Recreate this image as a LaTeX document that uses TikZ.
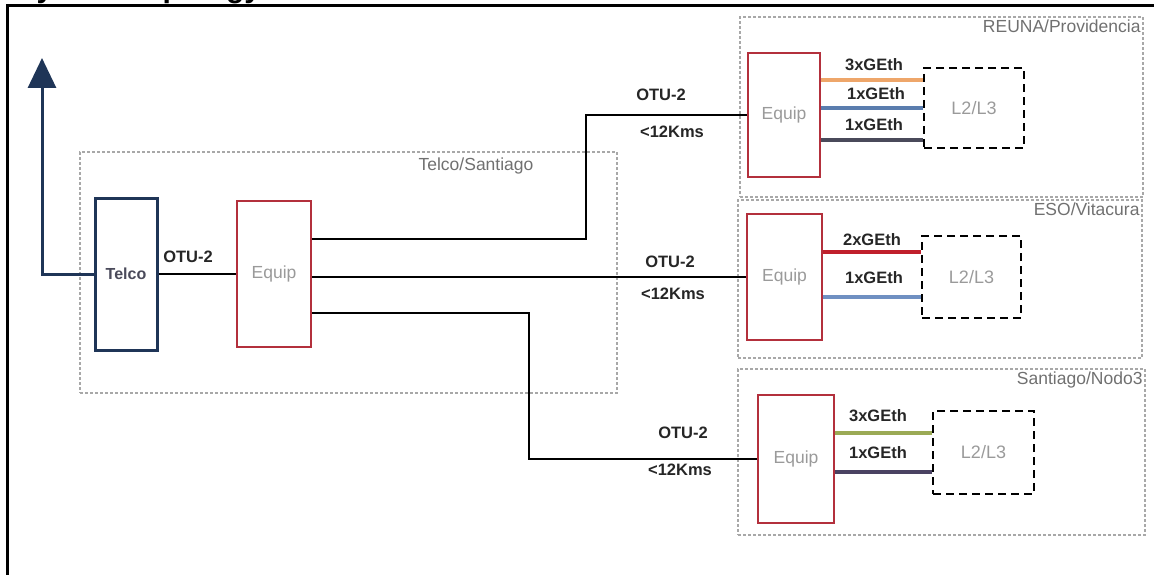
\documentclass[tikz,border=0pt]{standalone}
\usepackage{fontspec}
\setmainfont{Liberation Sans}
\usetikzlibrary{arrows.meta}
\definecolor{navy}{HTML}{1F3557}
\definecolor{eqred}{HTML}{B3303C}
\definecolor{zonegray}{HTML}{A8A8A8}
\definecolor{lblgray}{HTML}{707070}
\definecolor{lightgray}{HTML}{9A9A9A}
\definecolor{lorange}{HTML}{EEA66A}
\definecolor{lblue}{HTML}{5A7DAE}
\definecolor{ldark}{HTML}{4A4A5A}
\definecolor{lred}{HTML}{C0202C}
\definecolor{lblue2}{HTML}{6F90C2}
\definecolor{lgreen}{HTML}{9BAA55}
\definecolor{lpurple}{HTML}{4A4262}
\tikzset{
  zone/.style={draw=zonegray, line width=1.4pt, dash pattern=on 3pt off 2pt, inner sep=0pt},
  zonelbl/.style={font=\fontsize{17.5}{20}\selectfont, text=lblgray, inner sep=1pt},
  navybox/.style={draw=navy, line width=3pt, fill=white, inner sep=0pt, font=\bfseries\fontsize{16}{18}\selectfont, text=ldark},
  equip/.style={draw=eqred, line width=2.2pt, fill=white, inner sep=0pt, font=\fontsize{17.5}{20}\selectfont, text=lightgray},
  l2box/.style={draw=black, line width=2.4pt, dash pattern=on 8pt off 5pt, inner sep=0pt, font=\fontsize{18}{20}\selectfont, text=lightgray},
  wire/.style={draw=black, line width=2.4pt},
  cline/.style={line width=4pt},
  lbl/.style={font=\bfseries\fontsize{16.5}{19}\selectfont, text=black!85, inner sep=1pt},
}
\begin{document}
\begin{tikzpicture}[x=1pt, y=-1pt]
\useasboundingbox (0,0) rectangle (1154,575);
\begin{scope}
\clip (0,0) rectangle (1154,575);
\node[anchor=base west, inner sep=0pt, font=\bfseries\fontsize{30}{30}\selectfont] (title) at (-2,-2) {Physical Topology};
\end{scope}
% outer frame
\draw[line width=3pt] (7,575) -- (7,6) -- (1154,6);

% zones
\node[zone, minimum width=537, minimum height=241] (zsant) at (348.5,272.5) {};
\node[zonelbl] (zsantlbl) at (476,166) {Telco/Santiago};
\node[zone, minimum width=403, minimum height=180] (zreuna) at (941.5,107) {};
\node[zonelbl, anchor=north east] (zreunalbl) at ([xshift=-2pt,yshift=-2pt]zreuna.north east) {REUNA/Providencia};
\node[zone, minimum width=404, minimum height=158] (zeso) at (940,279) {};
\node[zonelbl, anchor=north east] (zesolbl) at ([xshift=-2pt,yshift=-2pt]zeso.north east) {ESO/Vitacura};
\node[zone, minimum width=407, minimum height=166] (znodo) at (941.5,452) {};
\node[zonelbl, anchor=north east] (znodolbl) at ([xshift=-2pt,yshift=-2pt]znodo.north east) {Santiago/Nodo3};

% main boxes
\node[navybox, minimum width=62, minimum height=152] (telco) at (126,274) {Telco};
\node[equip, minimum width=74, minimum height=146] (eq0) at (274,274) {Equip};
\node[equip, minimum width=72, minimum height=124] (eq1) at (784,115) {Equip};
\node[equip, minimum width=75, minimum height=126] (eq2) at (784.5,277) {Equip};
\node[equip, minimum width=76, minimum height=128] (eq3) at (796,459) {Equip};

% L2/L3 boxes
\node[l2box, minimum width=100, minimum height=80] (l21) at (974,108) {L2/L3};
\node[l2box, minimum width=99, minimum height=82] (l22) at (971.5,277) {L2/L3};
\node[l2box, minimum width=101, minimum height=83] (l23) at (983.5,452.5) {L2/L3};

% uplink arrow
\coordinate (up) at (42,58);
\draw[draw=navy, line width=3pt, -{Triangle[width=28pt,length=30pt]}] (telco.west) -| (up);

% telco - equip
\draw[wire] (telco.east) -- (eq0.west);
\node[lbl] (otu0) at (188,257) {OTU-2};

% equip to sites
\draw[wire] (eq0.east |- 0,239) -- ++(274,0) |- (eq1.west);
\draw[wire] (eq0.east |- eq2.west) -- (eq2.west);
\draw[wire] (eq0.east |- 0,313) -- ++(217,0) |- (eq3.west);
\node[lbl] (otu1) at (661,95) {OTU-2};
\node[lbl] (km1) at (672,132) {<12Kms};
\node[lbl] (otu2) at (670,262) {OTU-2};
\node[lbl] (km2) at (673,294) {<12Kms};
\node[lbl] (otu3) at (683,433) {OTU-2};
\node[lbl] (km3) at (680,470) {<12Kms};

% REUNA links
\draw[cline, lorange] (eq1.east |- 0,80) -- (l21.west |- 0,80);
\draw[cline, lblue] (eq1.east |- 0,108) -- (l21.west |- 0,108);
\draw[cline, ldark] (eq1.east |- 0,140) -- (l21.west |- 0,140);
\node[lbl] (g11) at (874,65) {3xGEth};
\node[lbl] (g12) at (876,94) {1xGEth};
\node[lbl] (g13) at (874,125) {1xGEth};

% ESO links
\draw[cline, lred] (eq2.east |- 0,252) -- (l22.west |- 0,252);
\draw[cline, lblue2] (eq2.east |- 0,297) -- (l22.west |- 0,297);
\node[lbl] (g21) at (872,240) {2xGEth};
\node[lbl] (g22) at (874,278) {1xGEth};

% Nodo3 links
\draw[cline, lgreen] (eq3.east |- 0,433) -- (l23.west |- 0,433);
\draw[cline, lpurple] (eq3.east |- 0,472) -- (l23.west |- 0,472);
\node[lbl] (g31) at (878,416) {3xGEth};
\node[lbl] (g32) at (878,453) {1xGEth};
\end{tikzpicture}
\end{document}
